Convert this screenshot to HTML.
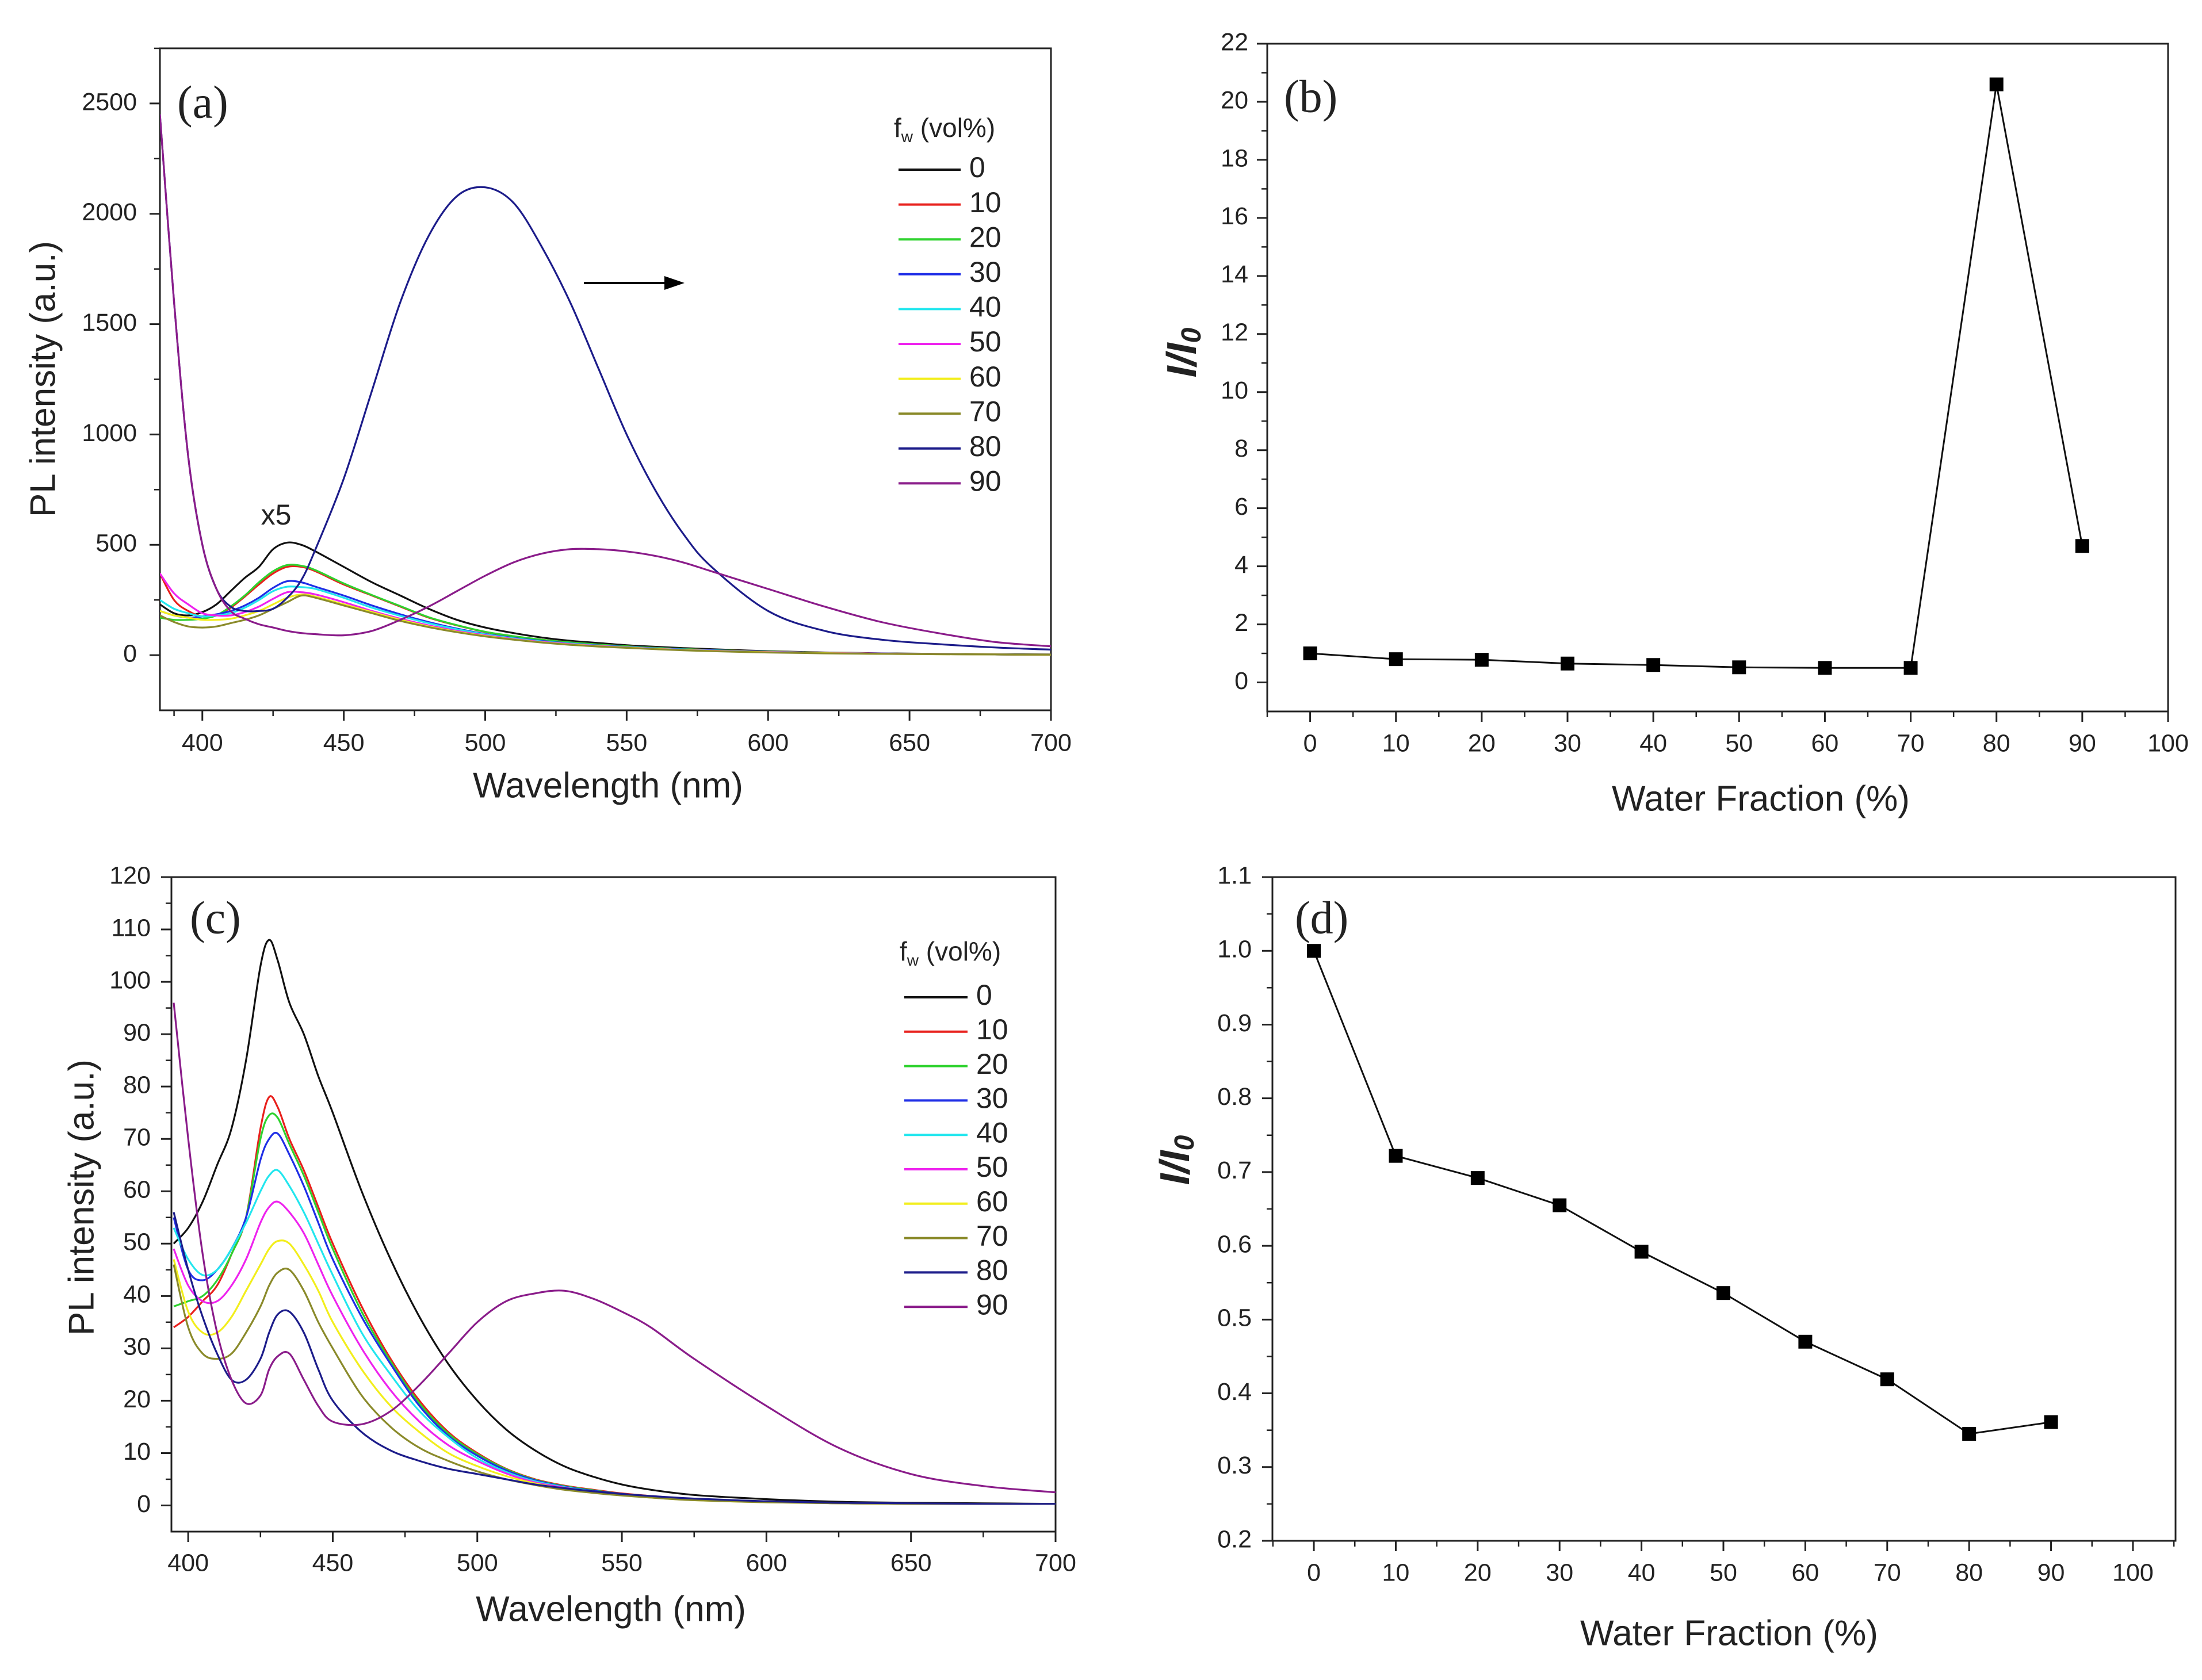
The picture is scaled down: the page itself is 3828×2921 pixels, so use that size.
<!DOCTYPE html>
<html><head><meta charset="utf-8">
<style>
html,body{margin:0;padding:0;background:#fff;}
svg{display:block;}
text{font-family:"Liberation Sans",Arial,sans-serif;fill:#222;}
.serif{font-family:"Liberation Serif",serif;}
</style></head>
<body>
<svg id="fig" width="3828" height="2921" viewBox="0 0 3828 2921" xmlns="http://www.w3.org/2000/svg">
<rect x="0" y="0" width="3828" height="2921" fill="#fff"/>
</svg>
<script>
// ---------- DATA ----------
const seriesLabels = ["0","10","20","30","40","50","60","70","80","90"];
const seriesColors = ["#111111","#e8201c","#2ed22e","#1f2ee6","#22e6ee","#ee22ee","#f2ee1c","#8a8a2a","#1c1c8a","#8a1c8a"];

const waveA = [385,390,395,400,405,410,415,420,425,430,435,440,450,460,470,480,490,500,510,520,530,540,550,560,570,580,600,620,640,660,680,700];
const specA0 = [230,190,180,195,230,290,350,400,480,510,500,470,400,330,270,210,160,125,100,80,65,55,45,38,32,27,18,12,8,6,4,3];
const specA10 = [370,250,200,175,180,215,265,320,370,400,400,380,320,270,220,170,135,105,85,70,58,48,40,33,28,23,16,11,7,5,3,2];
const specA20 = [170,160,160,165,180,220,270,330,380,408,405,385,325,272,222,172,136,106,86,70,58,48,40,33,28,23,16,11,7,5,3,2];
const specA30 = [200,180,170,175,185,200,225,260,305,335,330,310,270,225,185,150,120,96,78,64,53,44,37,31,26,22,15,10,7,5,3,2];
const specA40 = [250,210,190,175,180,190,215,250,290,310,308,300,260,215,178,145,117,94,76,62,52,43,36,30,25,21,14,10,7,5,3,2];
const specA50 = [370,280,230,190,180,180,195,220,255,285,285,275,240,200,165,135,110,90,73,60,50,42,35,29,24,20,14,10,7,5,3,2];
const specA60 = [200,180,170,160,160,165,180,200,230,260,275,265,230,195,160,130,106,87,71,58,48,40,34,28,23,19,13,9,6,4,3,2];
const specA70 = [180,150,130,125,130,145,160,180,210,240,270,260,225,190,155,127,104,85,70,57,47,39,33,27,22,18,12,8,6,4,3,2];
const specA80 = [2450,1600,900,500,300,220,200,200,210,260,340,480,800,1200,1600,1900,2080,2120,2050,1850,1600,1300,1000,750,550,400,200,110,70,50,35,25];
const specA90 = [2450,1600,900,500,300,200,165,140,125,110,100,95,90,110,160,220,290,360,420,460,480,480,470,450,420,380,300,220,150,100,60,40];

const waveC = [395,400,405,410,415,420,425,428,431,435,440,445,450,460,470,480,490,500,510,520,530,540,550,560,575,600,625,650,675,700];
const specC0 = [50,53,58,65,72,85,103,108,104,96,90,82,75,60,47,36,27,20,14.5,10.5,7.5,5.5,4,3,2,1.2,0.7,0.5,0.4,0.3];
const specC10 = [34,36,39,42,48,55,72,78,76,70,64,57,50,38,28,20,14,10,7,5,3.8,3,2.3,1.8,1.2,0.7,0.4,0.3,0.3,0.3];
const specC20 = [38,39,40,43,48,55,70,74.5,74,69,63,56,49,37,27.5,19.5,13.7,9.8,6.9,4.9,3.7,2.9,2.2,1.7,1.2,0.7,0.4,0.3,0.3,0.3];
const specC30 = [55,45,43,45,49,55,66,70,71,67,61,54,47,36,27,19,13.3,9.5,6.7,4.8,3.6,2.8,2.2,1.7,1.1,0.7,0.4,0.3,0.3,0.3];
const specC40 = [53,47,44,45,49,54,60,63,64,61,56,50,44,33,25,18,13,9,6.4,4.6,3.5,2.7,2.1,1.6,1.1,0.7,0.4,0.3,0.3,0.3];
const specC50 = [49,42,39,39,42,47,54,57,58,56,52,46,40,30,22,16,11.5,8.5,6.1,4.4,3.4,2.6,2,1.6,1.1,0.7,0.4,0.3,0.3,0.3];
const specC60 = [47,37,33,33,36,41,46,49,50.5,50,46,41,35,26,19,14,10,7.5,5.6,4.2,3.2,2.5,2,1.5,1,0.6,0.4,0.3,0.3,0.3];
const specC70 = [46,34,29,28,29,33,38,42,44.5,45,41,35,30,21,15,11,8.5,6.5,5,3.9,3,2.4,1.9,1.5,1,0.6,0.4,0.3,0.3,0.3];
const specC80 = [56,45,36,29,24,24,28,33,36.5,37,33,26,20,14,10.5,8.5,7,6,5,4,3.3,2.7,2.2,1.8,1.3,0.8,0.5,0.4,0.3,0.3];
const specC90 = [96,70,48,33,24,19.5,21,26,28.5,29,24,19,16,15.5,18,23,29,35,39,40.5,41,39.5,37,34,28,19,11,6,3.7,2.5];

const fracB = [0,10,20,30,40,50,60,70,80,90];
const ratioB = [1.0,0.8,0.78,0.65,0.6,0.52,0.5,0.5,20.6,4.7];
const fracD = [0,10,20,30,40,50,60,70,80,90];
const ratioD = [1.0,0.722,0.692,0.655,0.592,0.536,0.47,0.419,0.345,0.361];

const ticksAY = [0,500,1000,1500,2000,2500];
const ticksAX = [400,450,500,550,600,650,700];
const ticksBY = [0,2,4,6,8,10,12,14,16,18,20,22];
const ticksBX = [0,10,20,30,40,50,60,70,80,90,100];
const ticksCY = [0,10,20,30,40,50,60,70,80,90,100,110,120];
const ticksCX = [400,450,500,550,600,650,700];
const ticksDY = ["0.2","0.3","0.4","0.5","0.6","0.7","0.8","0.9","1.0","1.1"];
const ticksDX = [0,10,20,30,40,50,60,70,80,90,100];

// ---------- DRAWING ----------
const NS = "http://www.w3.org/2000/svg";
const svg = document.getElementById("fig");
function mk(tag, attrs, parent, txt){
  const e = document.createElementNS(NS, tag);
  for (const k in attrs) e.setAttribute(k, attrs[k]);
  if (txt !== undefined) e.textContent = txt;
  (parent || svg).appendChild(e);
  return e;
}
function scale(d0,d1,p0,p1){ return v => p0 + (v-d0)/(d1-d0)*(p1-p0); }

function axes(g, P, xs, ys, xTicks, yTicks, xMinor, yMinor, xLabY, yLabRight, fs){
  const f = mk("rect",{x:P.l,y:P.t,width:P.r-P.l,height:P.b-P.t,fill:"none",stroke:"#222","stroke-width":3},g);
  
  
  xTicks.forEach(v=>{
    const x = xs(+v);
    mk("line",{x1:x,x2:x,y1:P.b,y2:P.b+18,stroke:"#222","stroke-width":3},g);
    const t = mk("text",{x:x,y:xLabY,"font-size":fs,"text-anchor":"middle","dominant-baseline":"middle"},g,String(v));
    
    
  });
  xMinor.forEach(v=>{ const x=xs(v); mk("line",{x1:x,x2:x,y1:P.b,y2:P.b+10,stroke:"#222","stroke-width":2.5},g); });
  yTicks.forEach(v=>{
    const y = ys(+v);
    mk("line",{x1:P.l-18,x2:P.l,y1:y,y2:y,stroke:"#222","stroke-width":3},g);
    const t = mk("text",{x:yLabRight,y:y,"font-size":fs,"text-anchor":"end","dominant-baseline":"middle"},g,String(v));
    
    
  });
  yMinor.forEach(v=>{ const y=ys(v); mk("line",{x1:P.l-10,x2:P.l,y1:y,y2:y,stroke:"#222","stroke-width":2.5},g); });
}
function smoothPath(pts){
  let d = "M"+pts[0][0].toFixed(1)+","+pts[0][1].toFixed(1);
  for (let i=0;i<pts.length-1;i++){
    const p0=pts[Math.max(0,i-1)], p1=pts[i], p2=pts[i+1], p3=pts[Math.min(pts.length-1,i+2)];
    const c1=[p1[0]+(p2[0]-p0[0])/6, p1[1]+(p2[1]-p0[1])/6];
    const c2=[p2[0]-(p3[0]-p1[0])/6, p2[1]-(p3[1]-p1[1])/6];
    d += " C"+c1[0].toFixed(1)+","+c1[1].toFixed(1)+" "+c2[0].toFixed(1)+","+c2[1].toFixed(1)+" "+p2[0].toFixed(1)+","+p2[1].toFixed(1);
  }
  return d;
}
function range(a,b,s){ const r=[]; for(let v=a; v<=b+1e-9; v+=s) r.push(+v.toFixed(4)); return r; }

function spectraPanel(id, P, xd, yd, wave, specs, xTicks, yTicks, xMin, yMin, lab, leg, texts){
  const g = mk("g",{},svg);
  
  
  const xs = scale(xd[0],xd[1],P.l,P.r), ys = scale(yd[0],yd[1],P.b,P.t);
  axes(g,P,xs,ys,xTicks,yTicks,xMin,yMin,texts.xTickY,texts.yTickR,43);
  const clip = mk("clipPath",{id:id+"-clip"},g);
  mk("rect",{x:P.l,y:P.t,width:P.r-P.l,height:P.b-P.t},clip);
  const cg = mk("g",{"clip-path":"url(#"+id+"-clip)"},g);
  specs.forEach((s,i)=>{
    const pts = wave.map((w,j)=>[xs(w),ys(s[j])]);
    const p = mk("path",{d:smoothPath(pts),fill:"none",stroke:seriesColors[i],"stroke-width":3.2},cg);
    
    
  });
  // legend
  const lg = mk("g",{},g);
  
  
  const tt = mk("text",{x:leg.x1-8,y:leg.titleY,"font-size":46,"dominant-baseline":"middle"},lg);
  mk("tspan",{},tt,"f");
  mk("tspan",{"font-size":28,dy:14},tt,"w");
  mk("tspan",{dy:-14},tt," (vol%)");
  
  
  seriesLabels.forEach((l,i)=>{
    const y = leg.y0 + i*leg.step;
    const ln = mk("line",{x1:leg.x1,x2:leg.x2,y1:y,y2:y,stroke:seriesColors[i],"stroke-width":4},lg);
    
    
    const t = mk("text",{x:leg.tx,y:y,"font-size":50,"dominant-baseline":"middle"},lg,l);
    
    
  });
  const pl = mk("text",{x:lab.x,y:lab.y,"font-size":80,"class":"serif","dominant-baseline":"middle"},g,lab.t);
  
  
  const xt = mk("text",{x:texts.xTitleX,y:texts.xTitleY,"font-size":62,"text-anchor":"middle","dominant-baseline":"middle"},g,"Wavelength (nm)");
  
  
  const yt = mk("text",{x:0,y:0,"font-size":62,"text-anchor":"middle","dominant-baseline":"middle",transform:"translate("+texts.yTitleX+","+texts.yTitleY+") rotate(-90)"},g,"PL intensity (a.u.)");
  
  
  return {g,xs,ys};
}

function ratioPanel(id, P, xd, yd, xv, yv, xTicks, yTicks, xMin, yMin, lab, texts){
  const g = mk("g",{},svg);
  
  
  const xs = scale(xd[0],xd[1],P.l,P.r), ys = scale(yd[0],yd[1],P.b,P.t);
  axes(g,P,xs,ys,xTicks,yTicks,xMin,yMin,texts.xTickY,texts.yTickR,43);
  const d = xv.map((x,i)=>(i?"L":"M")+xs(x).toFixed(1)+","+ys(yv[i]).toFixed(1)).join(" ");
  const ln = mk("path",{d:d,fill:"none",stroke:"#111","stroke-width":3},g);
  
  
  xv.forEach((x,i)=>{
    const m = mk("rect",{x:xs(x)-12,y:ys(yv[i])-12,width:24,height:24,fill:"#000"},g);
    
    
  });
  const pl = mk("text",{x:lab.x,y:lab.y,"font-size":80,"class":"serif","dominant-baseline":"middle"},g,lab.t);
  
  
  const xt = mk("text",{x:texts.xTitleX,y:texts.xTitleY,"font-size":62,"text-anchor":"middle","dominant-baseline":"middle"},g,"Water Fraction (%)");
  
  
  const yt = mk("text",{x:0,y:0,"font-size":72,"font-weight":"bold","font-style":"italic","text-anchor":"middle","dominant-baseline":"middle",transform:"translate("+texts.yTitleX+","+texts.yTitleY+") rotate(-90)"},g);
  mk("tspan",{},yt,"I/I");
  mk("tspan",{"font-size":48,dy:14},yt,"0");
  
  
}

// Panel (a)
const A = spectraPanel("panel-a",{l:278,r:1827,t:84,b:1235},[385,700],[-250,2750],waveA,
  [specA0,specA10,specA20,specA30,specA40,specA50,specA60,specA70,specA80,specA90],
  ticksAX,ticksAY,range(425,675,50).concat([390]).filter(v=>v>385),range(-250,2750,500).filter(v=>v>-250),
  {x:308,y:186,t:"(a)"},{x1:1562,x2:1670,tx:1685,titleY:226,y0:295,step:60.6},
  {xTickY:1294,yTickR:238,xTitleX:1057,xTitleY:1370,yTitleX:79,yTitleY:659});
const x5 = mk("text",{x:480,y:899,"font-size":50,"text-anchor":"middle","dominant-baseline":"middle"},A.g,"x5");


const arr = mk("line",{x1:1015,x2:1160,y1:492,y2:492,stroke:"#000","stroke-width":4},A.g);


mk("polygon",{points:"1190,492 1155,480 1155,504",fill:"#000"},A.g);

// Panel (b)
ratioPanel("panel-b",{l:2203,r:3769,t:76,b:1237},[-5,100],[-1,22],fracB,ratioB,
  ticksBX,ticksBY,range(-5,95,10),range(1,21,2),
  {x:2232,y:176,t:"(b)"},
  {xTickY:1295,yTickR:2170,xTitleX:3061,xTitleY:1393,yTitleX:2060,yTitleY:613});

// Panel (c)
spectraPanel("panel-c",{l:298,r:1835,t:1525,b:2663},[394.2,700],[-5,120],waveC,
  [specC0,specC10,specC20,specC30,specC40,specC50,specC60,specC70,specC80,specC90],
  ticksCX,ticksCY,range(425,675,50),range(5,115,10),
  {x:330,y:1604,t:"(c)"},{x1:1572,x2:1682,tx:1697,titleY:1658,y0:1734,step:59.8},
  {xTickY:2720,yTickR:262,xTitleX:1062,xTitleY:2802,yTitleX:146,yTitleY:2082});

// Panel (d)
ratioPanel("panel-d",{l:2212,r:3782,t:1525,b:2679},[-5.06,105.2],[0.2,1.1],fracD,ratioD,
  ticksDX,ticksDY,range(-5,105,10),range(0.25,1.05,0.1),
  {x:2251,y:1604,t:"(d)"},
  {xTickY:2737,yTickR:2176,xTitleX:3006,xTitleY:2844,yTitleX:2048,yTitleY:2017});
</script>
</body></html>
